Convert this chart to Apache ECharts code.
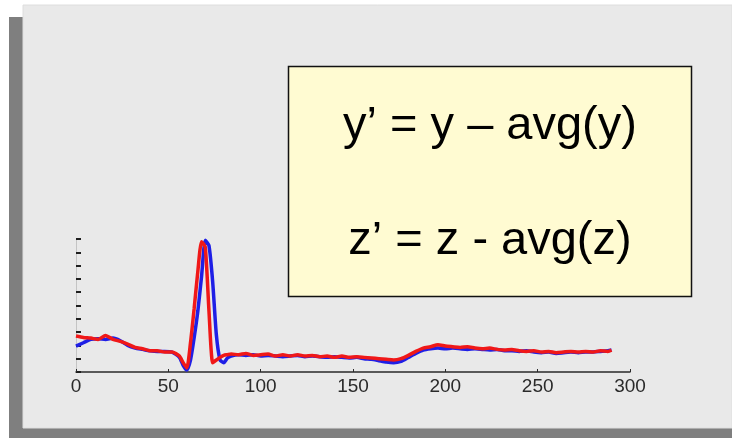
<!DOCTYPE html>
<html>
<head>
<meta charset="utf-8">
<script src="https://cdn.jsdelivr.net/npm/echarts@6/dist/echarts.min.js"></script>
<style>
  html, body { margin: 0; padding: 0; background: #ffffff; }
  #chart { width: 732px; height: 438px; }
</style>
</head>
<body>
<div id="chart"></div>
<script>
// Sample positions along the trace
const sampleX = [0,4,8,12,16,20,24,28,32,36,40,44,48,52,
  56,58,60,62,64,66,68,70,72,74,76,78,80,82,84,
  88,92,96,100,104,108,112,116,120,124,128,132,136,140,144,148,152,156,160,164,168,172,176,180,184,188,
  192,196,200,204,208,212,216,220,224,228,232,236,240,244,248,252,256,260,264,268,272,276,280,284,288,290];

// Blue trace
const blueY = [1.95,2.2,2.45,2.5,2.45,2.55,2.35,2.0,1.8,1.7,1.6,1.55,1.55,1.5,
  1.1,0.5,0.15,0.9,2.6,4.6,7.2,9.9,9.5,6.8,2.8,0.9,0.7,1.05,1.2,
  1.3,1.25,1.3,1.2,1.25,1.2,1.15,1.2,1.25,1.15,1.2,1.15,1.1,1.15,1.1,1.05,1.1,1.0,0.95,0.85,0.75,0.7,0.8,1.1,1.4,1.65,
  1.75,1.8,1.75,1.8,1.75,1.7,1.75,1.7,1.65,1.7,1.6,1.6,1.55,1.6,1.5,1.45,1.5,1.4,1.45,1.5,1.45,1.5,1.5,1.55,1.6,1.65];

// Red trace
const redY = [2.7,2.6,2.55,2.45,2.75,2.45,2.3,2.1,1.85,1.75,1.6,1.6,1.5,1.5,
  1.2,0.7,0.3,2.2,4.8,7.6,9.8,9.4,4.6,0.7,0.9,1.1,1.25,1.3,1.35,
  1.3,1.4,1.25,1.3,1.35,1.2,1.3,1.2,1.3,1.2,1.25,1.15,1.2,1.1,1.2,1.1,1.15,1.1,1.05,1.0,0.95,0.9,1.0,1.25,1.55,1.8,
  1.9,2.05,1.95,1.9,1.85,1.9,1.8,1.75,1.8,1.7,1.65,1.7,1.6,1.55,1.6,1.5,1.55,1.45,1.5,1.55,1.5,1.55,1.5,1.6,1.55,1.65];

// Axis ticks
const xTicks = [0, 50, 100, 150, 200, 250, 300];

// Formula lines in the note box
const formulas = ['y\u2019 = y \u2013 avg(y)', 'z\u2019 = z - avg(z)'];

const pairs = ys => sampleX.map((x, i) => [x, ys[i]]);

const chart = echarts.init(document.getElementById('chart'), null, { renderer: 'canvas' });

const formulaFont = '47px "Liberation Sans", Arial, sans-serif';

chart.setOption({
  animation: false,
  backgroundColor: '#ffffff',
  graphic: [
    // slide frame: dark shadow band and light panel
    { type: 'rect', z: -20, shape: { x: 9, y: 17, width: 723, height: 421 }, style: { fill: '#7f7f7f' } },
    { type: 'rect', z: -19, shape: { x: 23, y: 5, width: 709, height: 423 }, style: { fill: '#e9e9e9', stroke: '#dedede', lineWidth: 1 } },
    // note box
    { type: 'rect', z: 10, shape: { x: 288.5, y: 66.5, width: 403, height: 230 }, style: { fill: '#fffbd2', stroke: '#111111', lineWidth: 1.5 } },
    { type: 'text', z: 11, x: 490, y: 126, style: { text: formulas[0], fill: '#000000', font: formulaFont, textAlign: 'center', textVerticalAlign: 'middle' } },
    { type: 'text', z: 11, x: 490, y: 241, style: { text: formulas[1], fill: '#000000', font: formulaFont, textAlign: 'center', textVerticalAlign: 'middle' } }
  ],
  grid: { left: 76, right: 102, top: 239, bottom: 66, containLabel: false },
  xAxis: {
    type: 'value',
    min: xTicks[0],
    max: xTicks[xTicks.length - 1],
    interval: 50,
    axisLine: { show: true, lineStyle: { color: '#2a2a2a', width: 1.5 } },
    axisTick: { show: true, inside: true, length: 3, lineStyle: { color: '#2a2a2a' } },
    axisLabel: { show: true, color: '#2a2a2a', fontSize: 19, fontFamily: '"Liberation Sans", Arial, sans-serif', margin: 5 },
    splitLine: { show: false }
  },
  yAxis: {
    type: 'value',
    min: 0,
    max: 10,
    interval: 1,
    axisLine: { show: true, lineStyle: { color: '#c4c4c4', width: 1 } },
    axisTick: { show: true, inside: true, length: 5, lineStyle: { color: '#1e1e1e', width: 2 } },
    axisLabel: { show: false },
    splitLine: { show: false }
  },
  series: [
    {
      name: 'z',
      type: 'line',
      data: pairs(blueY),
      showSymbol: false,
      smooth: 0.2,
      lineStyle: { color: '#1f1fe6', width: 3.5 },
      z: 3
    },
    {
      name: 'y',
      type: 'line',
      data: pairs(redY),
      showSymbol: false,
      smooth: 0.2,
      lineStyle: { color: '#f01818', width: 3.5 },
      z: 4
    }
  ]
});
</script>
</body>
</html>
